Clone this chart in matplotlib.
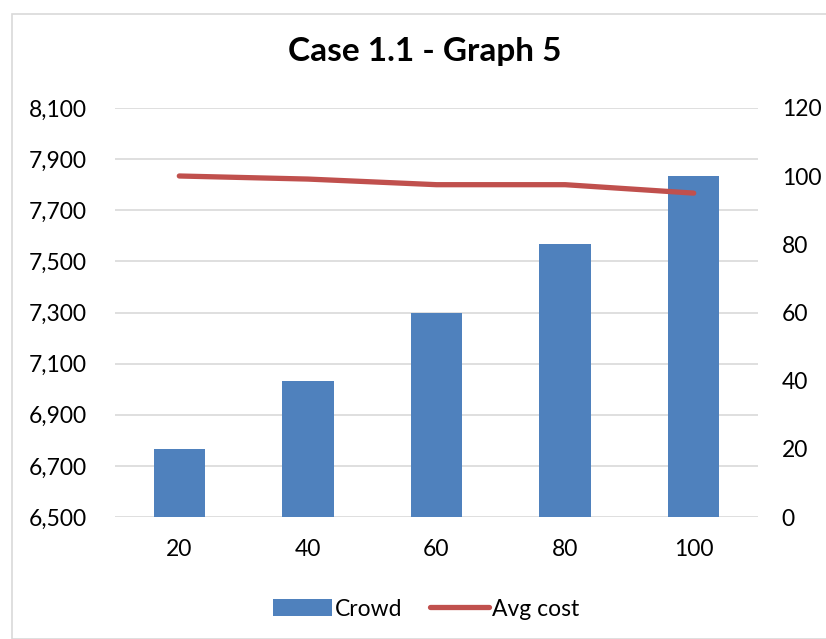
import matplotlib
matplotlib.use("Agg")
import matplotlib.pyplot as plt
from matplotlib.patches import Rectangle

categories = ["20", "40", "60", "80", "100"]
avg_cost = [7834, 7822, 7800, 7800, 7767]   # left axis (line)
crowd = [20, 40, 60, 80, 100]               # right axis (bars)
left_ticks = [6500, 6700, 6900, 7100, 7300, 7500, 7700, 7900, 8100]
right_ticks = [0, 20, 40, 60, 80, 100, 120]

plt.rcParams['font.family'] = ['Lato', 'DejaVu Sans']

W, H = 826, 639
fig = plt.figure(figsize=(W/100, H/100), dpi=100)
fig.patches.append(Rectangle((12/W, 0), 1.5, 1 - 14/H, transform=fig.transFigure,
                             fill=False, edgecolor="#d9d9d9", linewidth=1.2))

ax = fig.add_axes([115/W, 1 - 517/H, (758-115)/W, (517-108)/H])
ax2 = ax.twinx()

x = list(range(len(categories)))
bars = ax2.bar(x, crowd, width=0.40, color="#4F81BD", label="Crowd", zorder=2)
line, = ax.plot(x, avg_cost, color="#C0504D", lw=3.8, solid_capstyle="round",
                label="Avg cost", zorder=5)

ax.set_zorder(ax2.get_zorder() + 1)
ax.patch.set_visible(False)

ax.set_xlim(-0.5, 4.5)
ax.set_ylim(left_ticks[0], left_ticks[-1])
ax.set_yticks(left_ticks)
ax.set_yticklabels([f"{v:,}" for v in left_ticks])
ax2.set_ylim(right_ticks[0], right_ticks[-1])
ax2.set_yticks(right_ticks)
ax2.set_yticklabels([str(v) for v in right_ticks])

ax.set_xticks(x)
ax.set_xticklabels(categories)
ax.grid(False)
ax2.grid(False)
for a in (ax, ax2):
    for s in a.spines.values():
        s.set_visible(False)
    a.tick_params(length=0, labelsize=16.5, colors="#000000")
ax.tick_params(axis='y', pad=20)
ax2.tick_params(axis='y', pad=17)
ax.tick_params(axis='x', pad=16)

for v in left_ticks:
    yv = (v - left_ticks[0]) / (left_ticks[-1] - left_ticks[0]) * right_ticks[-1]
    ax2.axhline(yv, color="#d9d9d9", lw=1.2, zorder=0)

fig.text(425/W, 1 - 52/H, "Case 1.1 - Graph 5", ha="center", va="center",
         fontsize=24, fontweight="bold")

fig.legend([bars, line], ["Crowd", "Avg cost"], loc="center",
           bbox_to_anchor=(426/W, 1 - 609/H), ncol=2, frameon=False,
           fontsize=16.5, handlelength=2.6, handletextpad=0.12, columnspacing=1.2)

fig.savefig("out.png", dpi=100)
